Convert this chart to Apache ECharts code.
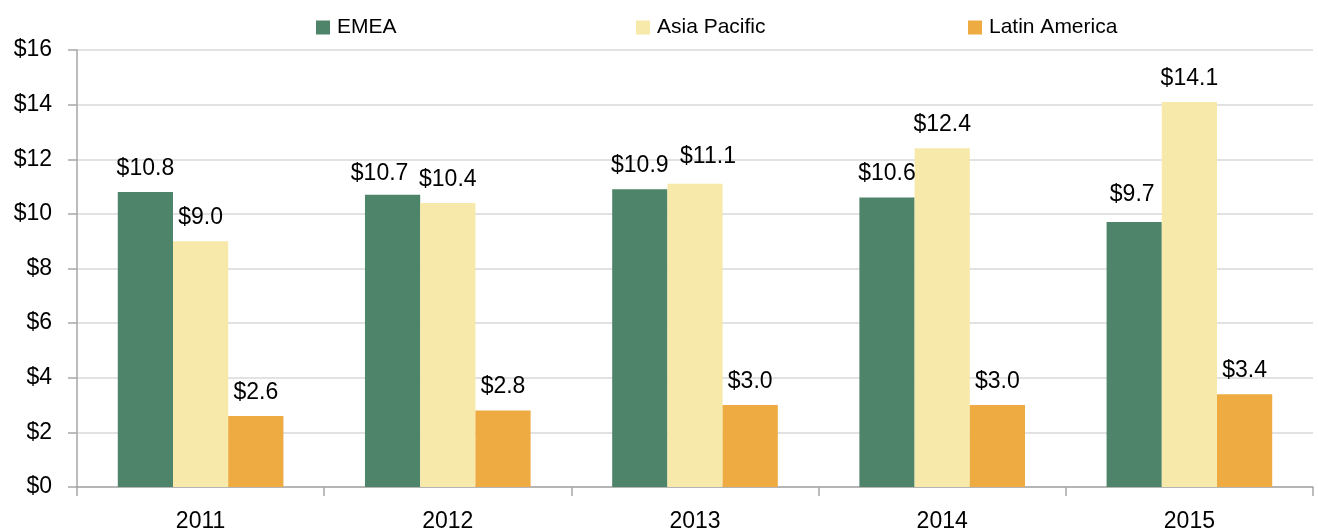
<!DOCTYPE html>
<html>
<head>
<meta charset="utf-8">
<script src="https://cdn.jsdelivr.net/npm/echarts@6/dist/echarts.min.js"></script>
<style>
  html, body { margin: 0; padding: 0; background: #fff; }
  #chart { width: 1318px; height: 531px; }
</style>
</head>
<body>
<div id="chart"></div>
<script>
const years = ["2011", "2012", "2013", "2014", "2015"];
const emea = [10.8, 10.7, 10.9, 10.6, 9.7];
const asiaPacific = [9.0, 10.4, 11.1, 12.4, 14.1];
const latinAmerica = [2.6, 2.8, 3.0, 3.0, 3.4];
const seriesNames = ["EMEA", "Asia Pacific", "Latin America"];
const colors = ["#4e8469", "#f7e9a9", "#eeab42"];

const font = "Liberation Sans";

const chart = echarts.init(document.getElementById("chart"), null, { renderer: "canvas" });

// legend item x positions, like the excel layout
const legendLefts = [311, 631, 963];

// a couple of labels were nudged sideways in the original to avoid overlap
const labelNudge = { "0-1": [-13, 2], "1-2": [13, -4], "0-4": [-2, -4] };

const makeSeries = (si, values) => ({
  name: seriesNames[si],
  type: "bar",
  data: values.map((v, i) => {
    const n = labelNudge[si + "-" + i];
    return n ? { value: v, label: { offset: n } } : v;
  }),
  barGap: "0%",
  barCategoryGap: "33%",
  itemStyle: { color: colors[si] },
  label: {
    show: true,
    position: "top",
    distance: 12,
    color: "#000",
    fontFamily: font,
    fontSize: 23,
    formatter: (p) => "$" + p.value.toFixed(1)
  }
});

const option = {
  animation: false,
  legend: seriesNames.map((n, i) => ({
    data: [n],
    left: legendLefts[i],
    top: 12,
    itemWidth: 14,
    itemHeight: 14,
    icon: "rect",
    textStyle: { fontFamily: font, fontSize: 21, color: "#000", padding: [0, 0, 0, 2] }
  })),
  grid: { left: 77, right: 5, top: 50, bottom: 44, containLabel: false, outerBoundsMode: "none" },
  xAxis: {
    type: "category",
    data: years,
    axisLine: { lineStyle: { color: "#a6a6a6", width: 1.5 } },
    axisTick: { show: true, length: 9, lineStyle: { color: "#a6a6a6", width: 1.5 } },
    axisLabel: { color: "#000", fontFamily: font, fontSize: 23, margin: 23 }
  },
  yAxis: {
    type: "value",
    min: 0,
    max: 16,
    interval: 2,
    axisLine: { show: true, lineStyle: { color: "#a6a6a6", width: 1.5 } },
    axisTick: { show: true, length: 9, lineStyle: { color: "#a6a6a6", width: 1.5 } },
    splitLine: { lineStyle: { color: "#d9d9d9", width: 1.5 } },
    axisLabel: { color: "#000", fontFamily: font, fontSize: 23, margin: 25, formatter: (v) => "$" + v }
  },
  series: [
    makeSeries(0, emea),
    makeSeries(1, asiaPacific),
    makeSeries(2, latinAmerica)
  ]
};

chart.setOption(option);
</script>
</body>
</html>
